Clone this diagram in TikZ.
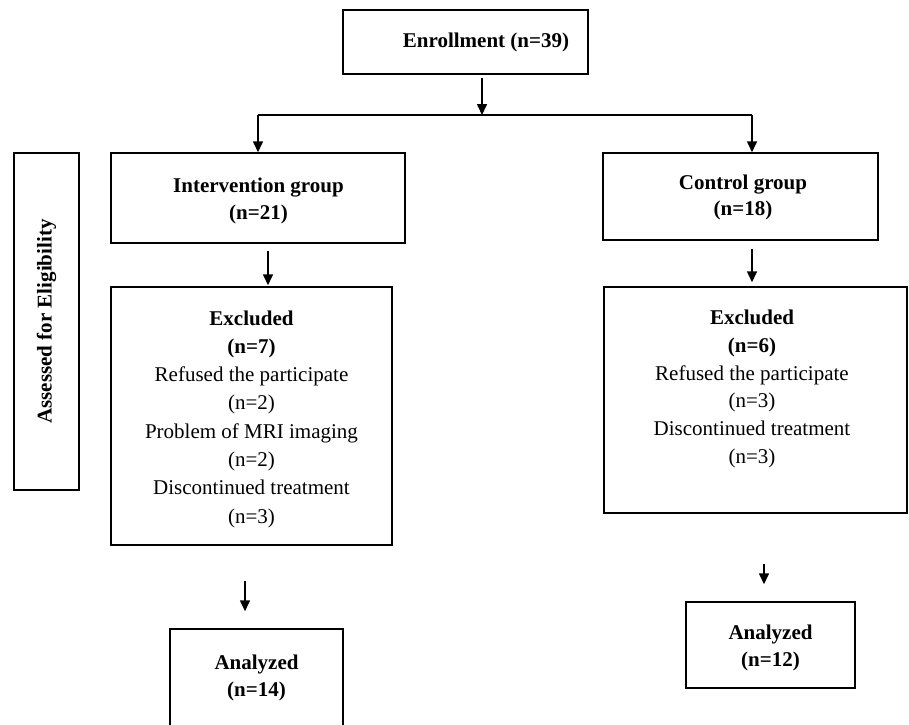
\documentclass[tikz,border=0pt]{standalone}
\usepackage{fontspec}
\setmainfont{Liberation Serif}
\usetikzlibrary{arrows.meta}
\begin{document}
\begin{tikzpicture}[x=1pt,y=-1pt,
  box/.style={draw=black, line width=1.5pt, rectangle, inner sep=0pt, align=center,
     font=\fontsize{21}{27}\selectfont},
  txt/.style={inner sep=0pt, align=center, font=\fontsize{21}{27.5}\selectfont},
  arr/.style={line width=1.6pt, -{Triangle[length=11pt,width=10pt]}},
  conn/.style={line width=1.8pt}]
\useasboundingbox[fill=white] (0,0) rectangle (909,724);
\node[box, minimum width=245, minimum height=64] (enr) at (465.5,42) {};
\node[txt] (enrt) at (486,42) {\textbf{Enrollment (n=39)}};
\node[box, minimum width=294, minimum height=90] (int) at (258,198) {};
\node[txt, font=\fontsize{21}{27}\selectfont] (intt) at (258.5,201) {\textbf{Intervention group}\\\textbf{(n=21)}};
\node[box, minimum width=275, minimum height=87] (ctl) at (740.5,196.5) {};
\node[txt, font=\fontsize{21}{26}\selectfont] (ctlt) at (743,197) {\textbf{Control group}\\\textbf{(n=18)}};
\node[box, minimum width=65, minimum height=337] (elig) at (46.5,321.5) {};
\node[txt, rotate=90] (eligt) at (elig.center) {\textbf{Assessed for Eligibility}};
\node[box, minimum width=281, minimum height=258] (exl) at (251.5,416) {};
\node[txt, font=\fontsize{21}{28.3}\selectfont] (exlt) at (251.5,419)
  {\textbf{Excluded}\\\textbf{(n=7)}\\Refused the participate\\(n=2)\\Problem of MRI imaging\\(n=2)\\Discontinued treatment\\(n=3)};
\node[box, minimum width=303, minimum height=226] (exr) at (755.5,400) {};
\node[txt, font=\fontsize{21}{27.8}\selectfont] (exrt) at (752,389)
  {\textbf{Excluded}\\\textbf{(n=6)}\\Refused the participate\\(n=3)\\Discontinued treatment\\(n=3)};
\node[box, minimum width=173, minimum height=100] (anl) at (256.5,679) {};
\node[txt] (anlt) at (256.5,678) {\textbf{Analyzed}\\\textbf{(n=14)}};
\node[box, minimum width=169, minimum height=86] (anr) at (770.5,645) {};
\node[txt] (anrt) at (770.5,648) {\textbf{Analyzed}\\\textbf{(n=12)}};
\coordinate (junc) at (482,115);
\coordinate (jl) at (258,115);
\coordinate (jr) at (752,115);
\draw[arr, shorten <=3pt] (enr.south -| junc) -- (junc);
\draw[conn] (jl) -- (jr);
\draw[arr] (jl) -- (int.north -| jl);
\draw[arr] (jr) -- (ctl.north -| jr);
\draw[arr, shorten <=7pt, shorten >=1pt] (int.south -| 268,0) -- (exl.north -| 268,0);
\draw[arr, shorten <=8pt, shorten >=4pt] (ctl.south -| 752,0) -- (exr.north -| 752,0);
\draw[arr, shorten <=35pt, shorten >=17pt] (exl.south -| 245,0) -- (anl.north -| 245,0);
\draw[arr, shorten <=50pt, shorten >=17pt] (exr.south -| 764,0) -- (anr.north -| 764,0);
\end{tikzpicture}
\end{document}
